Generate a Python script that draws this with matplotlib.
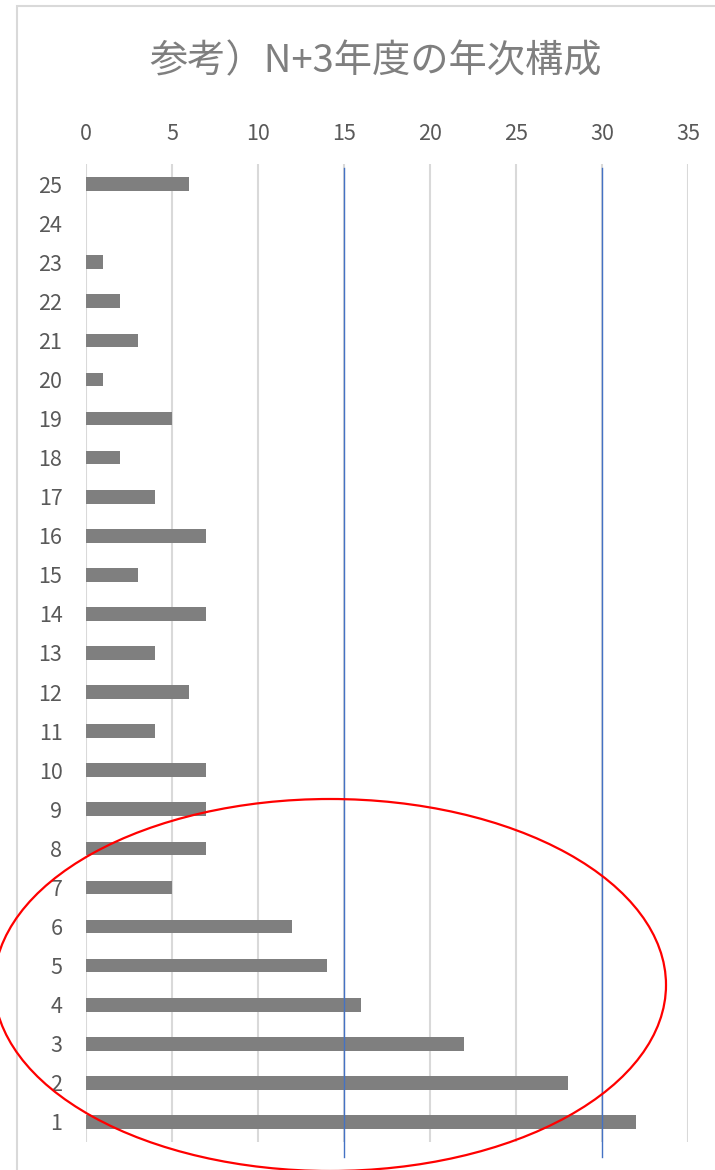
import matplotlib.pyplot as plt
from matplotlib.patches import Ellipse, Rectangle

plt.rcParams['font.family'] = ['Noto Sans CJK JP', 'DejaVu Sans']

# years of service (1 = newest) and head count in each
years = list(range(1, 26))
counts = [32, 28, 22, 16, 14, 12, 5, 7, 7, 7,
          4, 6, 4, 7, 3, 7, 4, 2, 5, 1,
          3, 2, 1, 0, 6]
ticks = [0, 5, 10, 15, 20, 25, 30, 35]
marks = [15, 30]  # blue reference lines

fig = plt.figure(figsize=(7.15, 11.7), dpi=100)
ax = fig.add_axes([86/715, 1 - 1141.5/1170, 602/715, 977/1170])

ax.barh(years, counts, height=0.35, color='#7f7f7f', linewidth=0, zorder=3)

ax.set_xlim(0, 35)
ax.set_ylim(0.5, 25.5)
ax.set_xticks(ticks)
ax.set_yticks(years)
ax.xaxis.tick_top()
ax.tick_params(axis='x', length=0, pad=14, labelsize=15.5, labelcolor='#595959')
ax.tick_params(axis='y', length=0, pad=17, labelsize=15.5, labelcolor='#595959')
for s in ax.spines.values():
    s.set_visible(False)
ax.grid(axis='x', color='#d9d9d9', linewidth=1.5, zorder=0)

for m in marks:
    ax.plot([m, m], [0.1, 25.4], color='#4472c4', linewidth=1.0, zorder=4,
            clip_on=False)

fig.text(376/715, 1 - 62/1170, '参考）N+3年度の年次構成', ha='center', va='center',
         fontsize=27.5, color='#7f7f7f')

# chart frame
fig.add_artist(Rectangle((17/715, -0.1), 1.0, 1 - 6/1170 + 0.1, transform=fig.transFigure,
                         fill=False, edgecolor='#d9d9d9', linewidth=1.5))

# red ellipse highlighting the young years
fig.add_artist(Ellipse((330/715, 1 - 985/1170), 672/715, 372/1170,
                       transform=fig.transFigure, fill=False,
                       edgecolor='#ff0000', linewidth=1.6, zorder=10))

fig.savefig('out.png', dpi=100)
